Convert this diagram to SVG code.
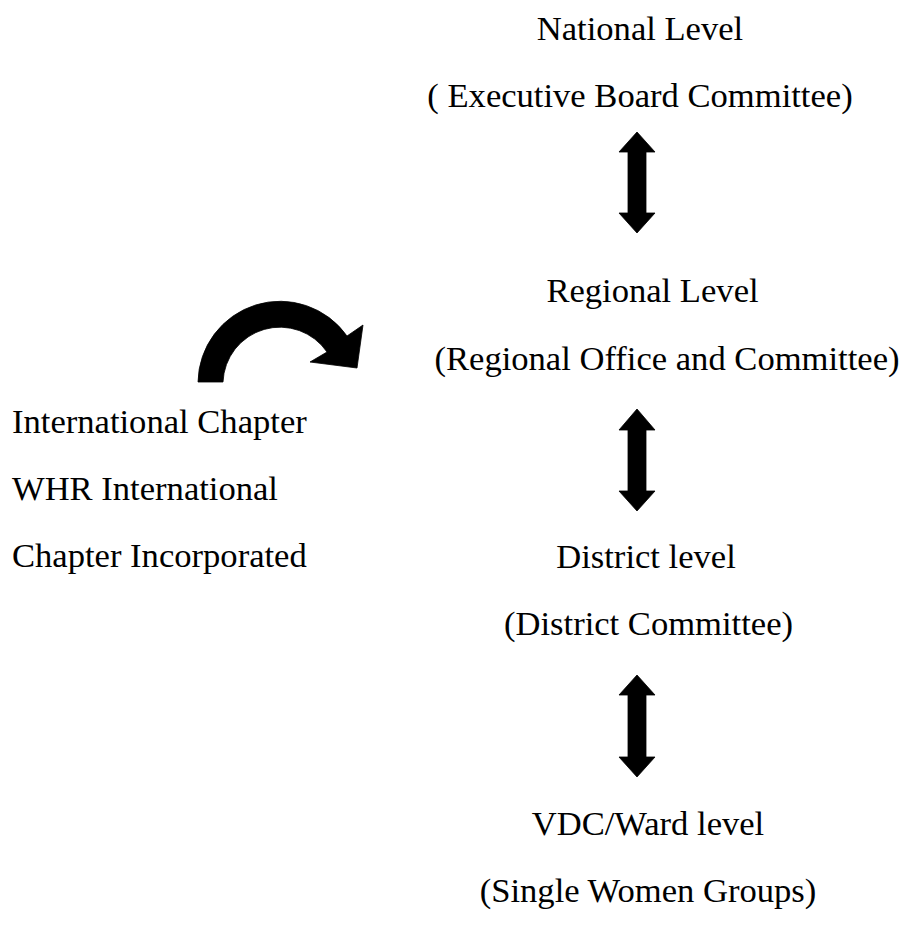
<svg xmlns="http://www.w3.org/2000/svg" width="905" height="927" viewBox="0 0 905 927">
<style>
text{font-family:"Liberation Serif","Times New Roman",serif;font-size:34.6px;fill:#000}
.c{text-anchor:middle}
.arr{fill:#000;stroke:#000;stroke-width:0.8;stroke-linejoin:miter}
</style>
<rect width="905" height="927" fill="#fff"/>
<g id="national">
<text class="c" x="640" y="40">National Level</text>
<text class="c" x="640" y="107">( Executive Board Committee)</text>
</g>
<g id="regional">
<text class="c" x="652.5" y="302">Regional Level</text>
<text class="c" x="667" y="370">(Regional Office and Committee)</text>
</g>
<g id="district">
<text class="c" x="646" y="568">District level</text>
<text class="c" x="648.5" y="635">(District Committee)</text>
</g>
<g id="ward">
<text class="c" x="648" y="835">VDC/Ward level</text>
<text class="c" x="648" y="902">(Single Women Groups)</text>
</g>
<g id="international">
<text x="12" y="433">International Chapter</text>
<text x="12" y="500">WHR International</text>
<text x="12" y="567">Chapter Incorporated</text>
</g>
<g id="connectors">
<path class="arr" d="M637,132 L655,152 L646,152 L646,213 L655,213 L637,233 L619,213 L628,213 L628,152 L619,152 Z"/>
<path class="arr" d="M637,409 L655,430 L646,430 L646,491 L655,491 L637,511 L619,491 L628,491 L628,430 L619,430 Z"/>
<path class="arr" d="M637,675 L655,695 L646,695 L646,757 L655,757 L637,777 L619,757 L628,757 L628,695 L619,695 Z"/>
<path class="arr" d="M198,382 A82,82 0 0 1 347,336 L363,325 L357,368 L310,362 L327,352 A57,57 0 0 0 223,382 Z"/>
</g>
</svg>
